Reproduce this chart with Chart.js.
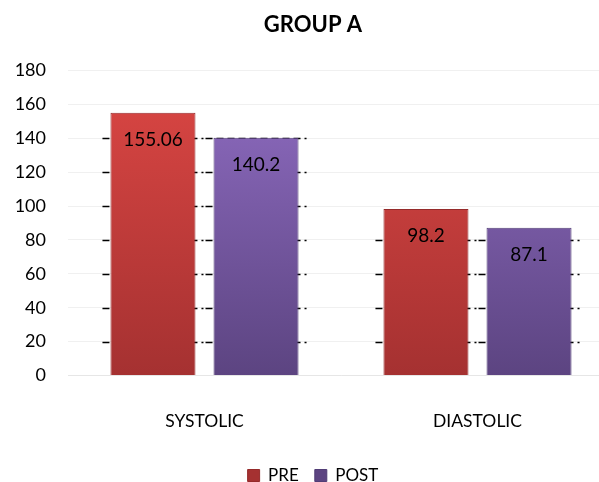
<!DOCTYPE html>
<html>
<head>
<meta charset="utf-8">
<script src="https://cdn.jsdelivr.net/npm/chart.js@4"></script>
<style>
  html, body { margin: 0; padding: 0; background: #fff; overflow: hidden; }
  #wrap { width: 620px; height: 494px; }
</style>
</head>
<body>
<div id="wrap"><canvas id="myChart" width="620" height="494"></canvas></div>
<script>
var categories = ["SYSTOLIC", "DIASTOLIC"];
var preValues = [155.06, 98.2];
var postValues = [140.2, 87.1];
var seriesNames = ["PRE", "POST"];

var FONT = 'Lato, "Open Sans", sans-serif';

// vertical gradient for the bars
function barFill(top, bottom) {
  return function (c) {
    var area = c.chart.chartArea;
    if (!area) return bottom;
    var g = c.chart.ctx.createLinearGradient(0, area.top, 0, area.bottom);
    g.addColorStop(0, top);
    g.addColorStop(1, bottom);
    return g;
  };
}

// black dashes on gridlines behind each bar + value labels
var barExtras = {
  id: 'barExtras',
  beforeDatasetsDraw: function (chart) {
    var ctx = chart.ctx, y = chart.scales.y;
    ctx.save();
    ctx.strokeStyle = '#000';
    ctx.lineWidth = 1.6;
    ctx.setLineDash([7, 4]);
    chart.data.datasets.forEach(function (ds, i) {
      chart.getDatasetMeta(i).data.forEach(function (bar, j) {
        y.ticks.forEach(function (t) {
          if (t.value <= 0 || t.value >= ds.data[j]) return;
          var py = Math.round(y.getPixelForValue(t.value)) + 0.5;
          ctx.beginPath();
          ctx.moveTo(bar.x - bar.width / 2 - 8, py);
          ctx.lineTo(bar.x + bar.width / 2 + 8, py);
          ctx.stroke();
        });
      });
    });
    ctx.restore();
  },
  afterDatasetsDraw: function (chart) {
    var ctx = chart.ctx;
    ctx.save();
    ctx.fillStyle = '#000';
    ctx.font = '19px ' + FONT;
    ctx.textAlign = 'center';
    ctx.textBaseline = 'middle';
    chart.data.datasets.forEach(function (ds, i) {
      chart.getDatasetMeta(i).data.forEach(function (bar, j) {
        ctx.fillText(String(ds.data[j]), bar.x, bar.y + 27);
      });
    });
    ctx.restore();
  }
};

var ctx = document.getElementById("myChart").getContext('2d');
var myChart = new Chart(ctx, {
  type: 'bar',
  data: {
    labels: categories,
    datasets: [{
      label: seriesNames[0],
      data: preValues,
      backgroundColor: barFill('#dc4744', '#a53131'),
      borderColor: '#952a2a',
      borderWidth: 1
    }, {
      label: seriesNames[1],
      data: postValues,
      backgroundColor: barFill('#906dc3', '#5c4481'),
      borderColor: '#513d76',
      borderWidth: 1
    }]
  },
  plugins: [barExtras],
  options: {
    responsive: false,
    animation: false,
    layout: { padding: { left: 12, right: 6, top: 0, bottom: 0 } },
    datasets: { bar: { categoryPercentage: 0.755, barPercentage: 0.825 } },
    plugins: {
      title: {
        display: true,
        text: 'GROUP A',
        color: '#000',
        font: { family: FONT, size: 22, weight: 'bold' },
        padding: { top: 12, bottom: 32 }
      },
      legend: {
        position: 'bottom',
        labels: {
          color: '#000',
          boxWidth: 12,
          boxHeight: 12,
          padding: 16,
          font: { family: FONT, size: 17 }
        }
      },
      tooltip: { enabled: false }
    },
    scales: {
      x: {
        grid: { display: false },
        border: { color: '#e6e6e6' },
        ticks: {
          color: '#000',
          padding: 27,
          font: { family: FONT, size: 17.5 }
        },
        afterFit: function (s) { s.height = 75.5; }
      },
      y: {
        min: 0,
        max: 180,
        ticks: {
          stepSize: 20,
          color: '#000',
          padding: 22,
          font: { family: FONT, size: 18 }
        },
        grid: { color: '#f0f0f0', drawTicks: false },
        border: { display: false },
        afterFit: function (s) { s.width = 56; }
      }
    }
  }
});
</script>
</body>
</html>
